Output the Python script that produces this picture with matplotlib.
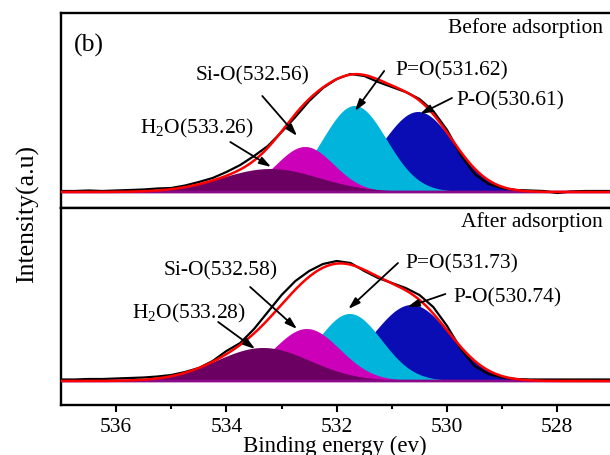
import numpy as np
import matplotlib
matplotlib.use("Agg")
import matplotlib.pyplot as plt

plt.rcParams['font.family'] = ['Liberation Serif', 'DejaVu Serif']
plt.rcParams['mathtext.fontset'] = 'custom'
plt.rcParams['mathtext.rm'] = 'Liberation Serif'
plt.rcParams['mathtext.it'] = 'Liberation Serif:italic'

# ---------------- data ----------------
energy_raw = [537.0 - 0.25 * i for i in range(41)]

raw_before = [1, 1, 1.5, 1, 1.5, 2, 2.5, 3.5, 4, 6.5, 10, 14, 20, 27, 36, 46, 60, 75, 91, 104,
              113, 118, 116, 110, 105, 100, 93, 81, 62, 37, 18, 8, 4, 2, 1.5, 1, -1, 0.5, 1, 1, 1]
raw_after = [1.5, 1.5, 2, 2, 2.5, 3, 3.5, 4.5, 6, 9, 13, 20, 30, 38, 52, 69, 86, 100, 110, 117,
             120, 118, 110, 103, 98, 93, 86, 74, 55, 32, 15, 7, 3.5, 2, 1.5, 1.5, 1.5, 1.5, 1.5, 1.5, 1.5]

# components: P-O, P=O, Si-O, H2O (drawn in this order)
comp_names = ["P-O", "P=O", "Si-O", "H2O"]
before_centers = [530.52, 531.67, 532.57, 533.20]
before_heights = [80, 86, 45, 23]
before_sigmas = [0.65, 0.58, 0.52, 0.88]
after_centers = [530.64, 531.76, 532.54, 533.33]
after_heights = [76, 67, 52, 33]
after_sigmas = [0.70, 0.58, 0.60, 0.85]

before_labels = ["P-O(530.61)", "P=O(531.62)", "Si-O(532.56)", "H$_2$O(533.26)"]
after_labels = ["P-O(530.74)", "P=O(531.73)", "Si-O(532.58)", "H$_2$O(533.28)"]

comp_colors = ["#0a0cb4", "#00b4dc", "#cc00b8", "#6c0062"]

# annotation positions (text centre, arrow tail, arrow head) in data units
before_text = [(528.86, 92), (529.91, 122), (533.53, 117), (534.53, 65)]
before_tail = [(529.91, 94), (531.14, 121), (533.35, 96), (533.93, 50)]
before_head = [(530.49, 78), (531.67, 81), (532.72, 56), (533.19, 25)]
after_text = [(528.91, 84), (529.74, 118), (534.10, 111), (534.68, 69)]
after_tail = [(530.03, 87), (530.89, 118), (533.57, 94), (534.15, 59)]
after_head = [(530.72, 74), (531.79, 72), (532.72, 52), (533.48, 32)]

# ---------------- figure ----------------
W, H = 610, 456
fig = plt.figure(figsize=(W / 100, H / 100), dpi=100)

px_per_ev = 55.15
x_left = 537.0
x_right = 526.5
ax_w = (x_left - x_right) * px_per_ev / W
ax_l = 61 / W

top_ax = fig.add_axes([ax_l, 1 - 209 / H, ax_w, (209 - 14) / H])
bot_ax = fig.add_axes([ax_l, 1 - 406 / H, ax_w, (406 - 209) / H])

e_fine = np.linspace(537.5, 526.0, 1200)


def gauss(x, c, h, s):
    return h * np.exp(-0.5 * ((x - c) / s) ** 2)


def draw_panel(ax, raw, centers, heights, sigmas, labels, texts, tails, heads, ylim):
    total = np.zeros_like(e_fine)
    for c, h, s, col in zip(centers, heights, sigmas, comp_colors):
        g = gauss(e_fine, c, h, s)
        total += g
        ax.fill_between(e_fine, 0, g, color=col, lw=0, zorder=2)
    ax.plot(e_fine, np.zeros_like(e_fine), color="#8a0a8a", lw=2.0, zorder=3)
    ax.plot(energy_raw, raw, color="black", lw=1.6, zorder=4)
    ax.plot(e_fine, total, color="#ff0000", lw=1.8, zorder=5)
    for lab, t, tl, hd in zip(labels, texts, tails, heads):
        ax.text(t[0], t[1], lab, fontsize=15.5, ha="center", va="center", zorder=6)
        ax.annotate("", xy=hd, xytext=tl,
                    arrowprops=dict(arrowstyle="-|>,head_length=0.7,head_width=0.22",
                                    color="black", lw=1.3, shrinkA=0, shrinkB=0),
                    zorder=6)
    ax.set_xlim(x_left, x_right)
    ax.set_ylim(*ylim)
    ax.set_yticks([])
    for sp in ax.spines.values():
        sp.set_linewidth(1.7)
    return ax


draw_panel(top_ax, raw_before, before_centers, before_heights, before_sigmas,
           before_labels, before_text, before_tail, before_head, (-16, 179))
draw_panel(bot_ax, raw_after, after_centers, after_heights, after_sigmas,
           after_labels, after_text, after_tail, after_head, (-24, 173))

# panel titles (positions in figure pixels)
fig.text(603 / W, 1 - 28 / H, "Before adsorption", fontsize=15.5, ha="right", va="center")
fig.text(603 / W, 1 - 222 / H, "After adsorption", fontsize=15.5, ha="right", va="center")
fig.text(74 / W, 1 - 45 / H, "(b)", fontsize=18.5, ha="left", va="center")

top_ax.set_xticks([])
top_ax.tick_params(axis="x", which="both", bottom=False, labelbottom=False)

bot_ax.set_xticks([536, 534, 532, 530, 528])
bot_ax.set_xticks([535, 533, 531, 529, 527], minor=True)
bot_ax.tick_params(axis="x", which="major", direction="out", length=5, width=1.5,
                   labelsize=15.5, pad=3.5)
bot_ax.tick_params(axis="x", which="minor", direction="out", length=3, width=1.5)

fig.text(335 / W, 1 - 452 / H, "Binding energy (ev)", fontsize=16.5, ha="center",
         va="baseline")
fig.text(27 / W, 1 - 214 / H, "Intensity(a.u)", fontsize=18.5, ha="center", va="center",
         rotation=90)

fig.savefig("out.png", dpi=100)
